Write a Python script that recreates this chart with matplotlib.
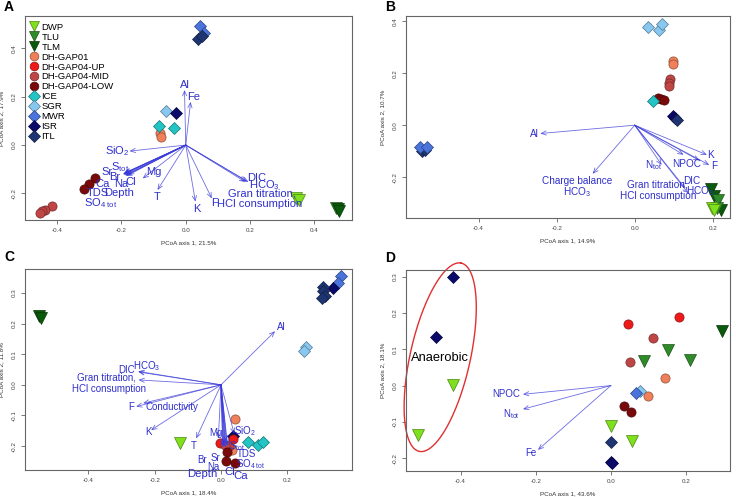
import numpy as np
import matplotlib
matplotlib.use("Agg")
import matplotlib.pyplot as plt
import matplotlib.colors as mcolors
from matplotlib.lines import Line2D

plt.rcParams['font.family'] = ['Liberation Sans', 'DejaVu Sans']
plt.rcParams['mathtext.fontset'] = 'custom'
plt.rcParams['mathtext.rm'] = 'Liberation Sans'
plt.rcParams['mathtext.it'] = 'Liberation Sans:italic'
plt.rcParams['mathtext.bf'] = 'Liberation Sans:bold'

# ---------------- groups / styles ----------------
groups = ["DWP", "TLU", "TLM", "DH-GAP01", "DH-GAP04-UP", "DH-GAP04-MID",
          "DH-GAP04-LOW", "ICE", "SGR", "MWR", "ISR", "ITL"]
group_colors = ["#7fe01e", "#2f8a2a", "#0b5a0b", "#f0805a", "#ee1a1a", "#c04545",
                "#7a0a0a", "#22c4c4", "#88c8f0", "#4a74dc", "#0a0a6a", "#1e3572"]
group_markers = ["v", "v", "v", "o", "o", "o", "o", "D", "D", "D", "D", "D"]

# ---------------- Panel A data ----------------
A_pts = {
    "DWP": ([0.343, 0.353], [-0.217, -0.228]),
    "TLU": ([0.468], [-0.262]),
    "TLM": ([0.472, 0.478], [-0.266, -0.271]),
    "DH-GAP01": ([-0.080, -0.078], [0.048, 0.034]),
    "DH-GAP04-MID": ([-0.415, -0.439, -0.446, -0.452], [-0.252, -0.269, -0.273, -0.279]),
    "DH-GAP04-LOW": ([-0.283, -0.300, -0.317], [-0.138, -0.163, -0.182]),
    "ICE": ([-0.083, -0.038], [0.080, 0.069]),
    "SGR": ([-0.061], [0.142]),
    "MWR": ([0.045, 0.058], [0.492, 0.462]),
    "ISR": ([-0.030], [0.131]),
    "ITL": ([0.037, 0.050], [0.438, 0.452]),
}
A_vec_x = [-0.004, 0.015, -0.175, -0.190, -0.195, -0.190, -0.185, -0.180, -0.195, -0.193,
           -0.190, -0.188, -0.134, -0.088, 0.030, 0.081, 0.190, 0.195, 0.185]
A_vec_y = [0.228, 0.179, -0.025, -0.115, -0.122, -0.125, -0.128, -0.122, -0.120, -0.118,
           -0.120, -0.126, -0.138, -0.186, -0.234, -0.221, -0.150, -0.153, -0.152]
A_labels = ["Al", "Fe", "SiO$_2$", "S$_{\\rm tot}$", "Sr", "Br", "Na", "Cl", "Ca", "TDS",
            "SO$_{4\\ \\rm tot}$", "Depth", "Mg", "T", "K", "F", "DIC", "HCO$_3$",
            "Gran titration,", "HCl consumption"]
A_lab_x = [-0.002, 0.025, -0.212, -0.205, -0.246, -0.220, -0.202, -0.172, -0.259, -0.273,
           -0.266, -0.208, -0.100, -0.090, 0.034, 0.089, 0.221, 0.244, 0.237, 0.229]
A_lab_y = [0.248, 0.200, -0.023, -0.092, -0.113, -0.134, -0.159, -0.152, -0.161, -0.200,
           -0.239, -0.197, -0.112, -0.214, -0.266, -0.241, -0.138, -0.166, -0.200, -0.244]

# ---------------- Panel B data ----------------
B_pts = {
    "SGR": ([0.034, 0.061, 0.071], [0.378, 0.365, 0.388]),
    "DH-GAP01": ([0.097, 0.098], [0.245, 0.236]),
    "DH-GAP04-MID": ([0.091, 0.089, 0.087], [0.176, 0.163, 0.152]),
    "DH-GAP04-LOW": ([0.059, 0.067, 0.075], [0.104, 0.100, 0.097]),
    "ICE": ([0.048], [0.094]),
    "ISR": ([0.097, 0.104], [0.036, 0.026]),
    "ITL": ([0.107, -0.544, -0.538], [0.019, -0.101, -0.097]),
    "MWR": ([-0.551, -0.531], [-0.082, -0.082]),
    "TLM": ([0.195, 0.203, 0.222], [-0.245, -0.271, -0.325]),
    "TLU": ([0.212, 0.210], [-0.286, -0.318]),
    "DWP": ([0.197, 0.203], [-0.318, -0.325]),
}
B_vec_x = [-0.242, -0.108, 0.069, 0.125, 0.166, 0.185, 0.191, 0.129, 0.137]
B_vec_y = [-0.032, -0.187, -0.153, -0.114, -0.136, -0.114, -0.153, -0.242, -0.262]
B_labels = ["Al", "Charge balance", "HCO$_3$", "N$_{\\rm tot}$", "NPOC", "K", "F", "DIC",
            "HCO$_3$", "Gran titration,", "HCl consumption"]
B_lab_x = [-0.257, -0.148, -0.148, 0.049, 0.134, 0.195, 0.203, 0.146, 0.167, 0.059, 0.059]
B_lab_y = [-0.035, -0.216, -0.257, -0.155, -0.150, -0.116, -0.158, -0.213, -0.252, -0.229, -0.273]

# ---------------- Panel C data ----------------
C_pts = {
    "TLM": ([-0.548, -0.544], [0.224, 0.219]),
    "MWR": ([0.361, 0.354], [0.355, 0.333]),
    "ISR": ([0.339, 0.037], [0.315, -0.168]),
    "ITL": ([0.309, 0.307, 0.314, 0.306], [0.319, 0.306, 0.290, 0.284]),
    "SGR": ([0.256, 0.250], [0.122, 0.109]),
    "ICE": ([0.082, 0.113, 0.128], [-0.188, -0.195, -0.186]),
    "DWP": ([-0.124], [-0.191]),
    "DH-GAP01": ([0.042, 0.032], [-0.113, -0.213]),
    "DH-GAP04-UP": ([-0.003, 0.035], [-0.190, -0.178]),
    "DH-GAP04-MID": ([0.025, 0.012], [-0.200, -0.195]),
    "DH-GAP04-LOW": ([0.018, 0.015, 0.042], [-0.218, -0.250, -0.256]),
}
C_vec_x = [0.163, -0.249, -0.250, -0.249, -0.256, -0.235, -0.211, -0.075, -0.008, 0.040,
           0.012, 0.010, 0.008, 0.015, 0.005, 0.020, 0.014, 0.006, 0.018]
C_vec_y = [0.175, 0.042, 0.044, 0.016, -0.071, -0.060, -0.148, -0.175, -0.175, -0.160,
           -0.190, -0.200, -0.195, -0.185, -0.200, -0.200, -0.205, -0.205, -0.195]
C_labels = ["Al", "DIC", "HCO$_3$", "Gran titration,", "HCl consumption", "F", "Conductivity",
            "K", "T", "Mg", "SiO$_2$", "S$_{\\rm tot}$", "TDS", "SO$_{4\\ \\rm tot}$", "Br",
            "Sr", "Na", "Depth", "Cl", "Ca"]
C_lab_x = [0.183, -0.284, -0.224, -0.345, -0.338, -0.271, -0.149, -0.219, -0.083, -0.015,
           0.072, 0.047, 0.077, 0.090, -0.058, -0.018, -0.023, -0.058, 0.027, 0.059]
C_lab_y = [0.189, 0.049, 0.060, 0.025, -0.013, -0.074, -0.071, -0.155, -0.199, -0.156,
           -0.151, -0.199, -0.227, -0.260, -0.244, -0.238, -0.268, -0.292, -0.286, -0.298]

# ---------------- Panel D data ----------------
D_pts = {
    "ISR": ([-0.420, -0.465, 0.000, 0.004], [0.300, 0.135, -0.209, -0.214]),
    "DWP": ([-0.420, -0.514, 0.000, 0.055], [0.002, -0.136, -0.111, -0.152]),
    "DH-GAP04-UP": ([0.180, 0.046], [0.190, 0.169]),
    "DH-GAP04-MID": ([0.113, 0.051], [0.130, 0.066]),
    "TLU": ([0.151, 0.089, 0.211], [0.098, 0.068, 0.071]),
    "TLM": ([0.297], [0.150]),
    "DH-GAP01": ([0.144, 0.098], [0.020, -0.028]),
    "SGR": ([0.077], [-0.015]),
    "MWR": ([0.068], [-0.021]),
    "DH-GAP04-LOW": ([0.036, 0.053], [-0.056, -0.074]),
    "ITL": ([0.000], [-0.154]),
}
D_vec_x = [-0.234, -0.234, -0.194]
D_vec_y = [-0.024, -0.065, -0.177]
D_labels = ["NPOC", "N$_{\\rm tot}$", "Fe"]
D_lab_x = [-0.278, -0.265, -0.212]
D_lab_y = [-0.024, -0.079, -0.186]

panels = [
    dict(letter="A", pts=A_pts, vx=A_vec_x, vy=A_vec_y, labs=A_labels, lx=A_lab_x, ly=A_lab_y,
         xlab="PCoA axis 1, 21.5%", ylab="PCoA axis 2, 17.9%",
         xlim=(-0.50, 0.517), ylim=(-0.31, 0.534), xt=[-0.4, -0.2, 0.0, 0.2, 0.4],
         yt=[-0.2, 0.0, 0.2, 0.4], box=(25, 352, 16, 220), fs=8.0, legend=True),
    dict(letter="B", pts=B_pts, vx=B_vec_x, vy=B_vec_y, labs=B_labels, lx=B_lab_x, ly=B_lab_y,
         xlab="PCoA axis 1, 14.9%", ylab="PCoA axis 2, 10.7%",
         xlim=(-0.586, 0.244), ylim=(-0.357, 0.42), xt=[-0.4, -0.2, 0.0, 0.2],
         yt=[-0.2, 0.0, 0.2, 0.4], box=(406, 730, 16, 218), fs=7.2, legend=False),
    dict(letter="C", pts=C_pts, vx=C_vec_x, vy=C_vec_y, labs=C_labels, lx=C_lab_x, ly=C_lab_y,
         xlab="PCoA axis 1, 18.4%", ylab="PCoA axis 2, 11.8%",
         xlim=(-0.591, 0.395), ylim=(-0.278, 0.378), xt=[-0.4, -0.2, 0.0, 0.2],
         yt=[-0.2, -0.1, 0.0, 0.1, 0.2, 0.3], box=(25, 352, 269, 470), fs=7.0, legend=False),
    dict(letter="D", pts=D_pts, vx=D_vec_x, vy=D_vec_y, labs=D_labels, lx=D_lab_x, ly=D_lab_y,
         xlab="PCoA axis 1, 43.6%", ylab="PCoA axis 2, 18.1%",
         xlim=(-0.545, 0.317), ylim=(-0.235, 0.318), xt=[-0.4, -0.2, 0.0, 0.2],
         yt=[-0.2, -0.1, 0.0, 0.1, 0.2, 0.3], box=(406, 730, 270, 471), fs=7.0, legend=False),
]

W, H = 736, 497
fig = plt.figure(figsize=(W / 100, H / 100), dpi=100)

ARROW_COL = (0.23, 0.23, 0.85, 0.75)
TEXT_COL = "#2f2fcc"
marker_size = {"v": 8.0, "o": 6.6, "D": 6.2}


def darker(c, f=0.6):
    r, g, b = mcolors.to_rgb(c)
    return (r * f, g * f, b * f)


for p in panels:
    l, r, t, b = p["box"]
    ax = fig.add_axes([l / W, 1 - b / H, (r - l) / W, (b - t) / H])
    ax.set_xlim(*p["xlim"])
    ax.set_ylim(*p["ylim"])
    ax.set_xticks(p["xt"])
    ax.set_yticks(p["yt"])
    ax.set_xticklabels([f"{v:.1f}" for v in p["xt"]])
    ax.set_yticklabels([f"{v:.1f}" for v in p["yt"]], rotation=90, va="center")
    ax.tick_params(labelsize=4.5, length=3, width=0.5, pad=3, colors="#444444")
    for s in ax.spines.values():
        s.set_color("#666666")
        s.set_linewidth(0.8)
    ax.set_xlabel(p["xlab"], fontsize=4.5, labelpad=5, color="#333333")
    ax.set_ylabel(p["ylab"], fontsize=4.5, labelpad=5, color="#333333")

    # points
    for g, (xs, ys) in p["pts"].items():
        i = groups.index(g)
        m = group_markers[i]
        ax.plot(xs, ys, linestyle="none", marker=m, ms=marker_size[m],
                mfc=group_colors[i], mec=darker(group_colors[i]), mew=0.5, zorder=3)

    # arrows
    for vx, vy in zip(p["vx"], p["vy"]):
        ax.annotate("", xy=(vx, vy), xytext=(0, 0),
                    arrowprops=dict(arrowstyle="->,head_length=0.35,head_width=0.15",
                                    color=ARROW_COL, lw=0.6, shrinkA=0, shrinkB=0),
                    zorder=4)
    # labels
    for lab, x, y in zip(p["labs"], p["lx"], p["ly"]):
        fsz = p["fs"]
        if p["letter"] == "C" and lab in ("Depth", "Cl", "Ca"):
            fsz = 8.2
        ax.text(x, y, lab, fontsize=fsz, color=TEXT_COL, ha="center", va="center",
                zorder=5, clip_on=False)

    if p["legend"]:
        handles = [Line2D([], [], linestyle="none", marker=group_markers[i],
                          ms=marker_size[group_markers[i]] * 0.95, mfc=group_colors[i],
                          mec=darker(group_colors[i]), mew=0.5)
                   for i in range(len(groups))]
        ax.legend(handles, groups, loc="upper left", bbox_to_anchor=(0.0, 0.99),
                  frameon=False, fontsize=6.8, labelspacing=0.1, handletextpad=0.25,
                  handlelength=1.0, borderaxespad=0.3, borderpad=0.2)

    if p["letter"] == "D":
        tt = np.linspace(0, 2 * np.pi, 200)
        cx, cy = -0.454, 0.078
        ex = cx + 0.056 * np.cos(tt) + 0.078 * np.sin(tt)
        ey = cy + 0.259 * np.cos(tt) - 0.018 * np.sin(tt)
        ax.plot(ex, ey, color="#e03030", lw=1.0, zorder=2, clip_on=False)
        ax.text(-0.456, 0.075, "Anaerobic", fontsize=9.3, color="black",
                ha="center", va="center", zorder=5)

    fig.text((l - 16) / W, 1 - (t - 12) / H if t > 100 else 1 - 7 / H, p["letter"],
             fontsize=10, fontweight="bold", ha="center", va="center")

fig.savefig("out.png", dpi=100)
